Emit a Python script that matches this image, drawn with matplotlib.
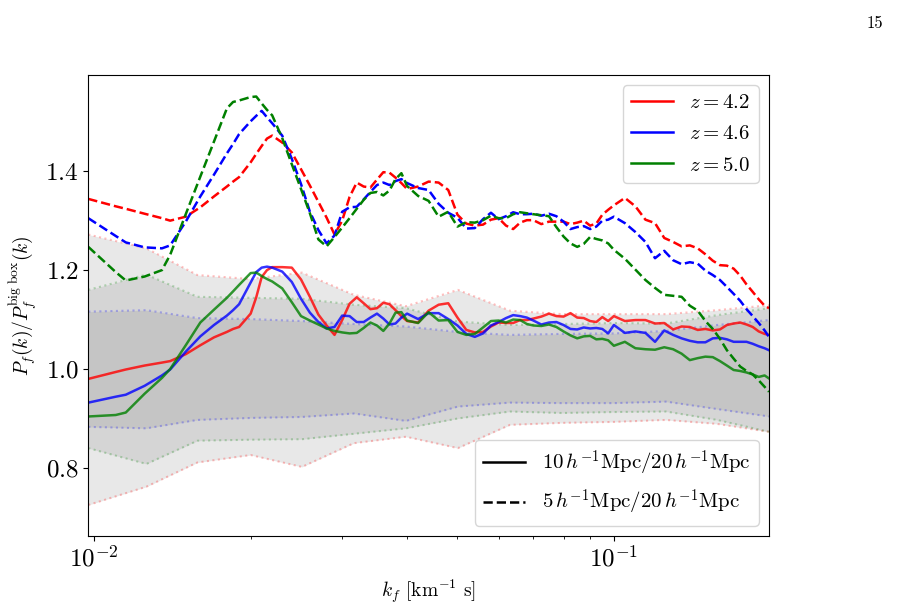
import numpy as np
import matplotlib
matplotlib.use("Agg")
import matplotlib.pyplot as plt
from matplotlib.lines import Line2D

plt.rcParams['font.family'] = 'serif'
plt.rcParams['font.serif'] = ['cmr10', 'DejaVu Serif']
plt.rcParams['mathtext.fontset'] = 'cm'
plt.rcParams['axes.formatter.use_mathtext'] = True

# k grid of the ratio curves [km^-1 s]
k = [0.00974, 0.0110, 0.0115, 0.0125, 0.0135, 0.0140, 0.0150, 0.0160, 0.0170, 0.0180,
     0.0185, 0.0190, 0.0200, 0.0205, 0.0210, 0.0215, 0.0220, 0.0230, 0.0240, 0.0250,
     0.0260, 0.0270, 0.0280, 0.0290, 0.0300, 0.0310, 0.0320, 0.0330, 0.0340, 0.0350,
     0.0360, 0.0370, 0.0380, 0.0390, 0.0400, 0.0420, 0.0440, 0.0460, 0.0480, 0.0500,
     0.0520, 0.0540, 0.0560, 0.0580, 0.0600, 0.0620, 0.0640, 0.0660, 0.0680, 0.0700,
     0.0725, 0.0750, 0.0775, 0.0800, 0.0825, 0.0850, 0.0875, 0.0900, 0.0925, 0.0950,
     0.0975, 0.1000, 0.1050, 0.1100, 0.1150, 0.1200, 0.1250, 0.1300, 0.1350, 0.1400,
     0.1450, 0.1500, 0.1550, 0.1600, 0.1650, 0.1700, 0.1750, 0.1800, 0.1850, 0.1900,
     0.1950, 0.1988]

# 10 Mpc/h / 20 Mpc/h (solid)
r10_z42 = [0.980, 0.994, 0.999, 1.007, 1.013, 1.016, 1.030, 1.048, 1.064, 1.075,
           1.081, 1.085, 1.112, 1.145, 1.186, 1.200, 1.206, 1.206, 1.205, 1.181,
           1.146, 1.110, 1.088, 1.069, 1.099, 1.132, 1.145, 1.133, 1.121, 1.123,
           1.134, 1.131, 1.119, 1.107, 1.097, 1.094, 1.118, 1.130, 1.133, 1.104,
           1.079, 1.074, 1.075, 1.086, 1.094, 1.093, 1.093, 1.099, 1.099, 1.102,
           1.106, 1.112, 1.107, 1.106, 1.113, 1.104, 1.103, 1.097, 1.095, 1.105,
           1.097, 1.107, 1.097, 1.099, 1.099, 1.092, 1.093, 1.080, 1.086, 1.085,
           1.079, 1.081, 1.078, 1.080, 1.089, 1.092, 1.094, 1.090, 1.085, 1.076,
           1.071, 1.069]
r10_z46 = [0.932, 0.944, 0.948, 0.966, 0.987, 0.999, 1.035, 1.066, 1.089, 1.108,
           1.119, 1.131, 1.175, 1.196, 1.205, 1.207, 1.205, 1.197, 1.176, 1.142,
           1.114, 1.095, 1.082, 1.085, 1.108, 1.107, 1.095, 1.095, 1.104, 1.112,
           1.102, 1.090, 1.092, 1.104, 1.112, 1.101, 1.113, 1.113, 1.101, 1.088,
           1.071, 1.065, 1.072, 1.088, 1.095, 1.103, 1.109, 1.107, 1.104, 1.098,
           1.090, 1.094, 1.095, 1.089, 1.081, 1.080, 1.084, 1.082, 1.083, 1.081,
           1.072, 1.089, 1.073, 1.076, 1.073, 1.055, 1.078, 1.069, 1.062, 1.057,
           1.054, 1.054, 1.062, 1.063, 1.060, 1.055, 1.055, 1.055, 1.051, 1.046,
           1.042, 1.038]
r10_z50 = [0.904, 0.907, 0.912, 0.950, 0.982, 1.000, 1.048, 1.094, 1.120, 1.144,
           1.157, 1.170, 1.194, 1.195, 1.188, 1.182, 1.177, 1.163, 1.135, 1.107,
           1.098, 1.090, 1.082, 1.077, 1.074, 1.072, 1.073, 1.083, 1.094, 1.088,
           1.077, 1.092, 1.114, 1.115, 1.098, 1.093, 1.115, 1.098, 1.099, 1.075,
           1.069, 1.071, 1.084, 1.097, 1.098, 1.094, 1.100, 1.099, 1.091, 1.088,
           1.087, 1.090, 1.085, 1.076, 1.068, 1.062, 1.066, 1.067, 1.060, 1.061,
           1.058, 1.047, 1.055, 1.042, 1.040, 1.039, 1.044, 1.040, 1.031, 1.018,
           1.022, 1.025, 1.024, 1.016, 1.007, 0.998, 0.996, 0.993, 0.989, 0.984,
           0.987, 0.981]

# 5 Mpc/h / 20 Mpc/h (dashed)
r5_z42 = [1.344, 1.329, 1.324, 1.314, 1.305, 1.300, 1.308, 1.327, 1.349, 1.369,
          1.379, 1.388, 1.418, 1.435, 1.451, 1.466, 1.472, 1.458, 1.438, 1.404,
          1.371, 1.338, 1.306, 1.272, 1.300, 1.348, 1.377, 1.369, 1.367, 1.383,
          1.398, 1.397, 1.387, 1.376, 1.364, 1.369, 1.379, 1.377, 1.362, 1.312,
          1.294, 1.290, 1.292, 1.302, 1.305, 1.290, 1.283, 1.296, 1.301, 1.301,
          1.293, 1.298, 1.298, 1.298, 1.293, 1.296, 1.300, 1.290, 1.294, 1.312,
          1.322, 1.331, 1.346, 1.329, 1.302, 1.295, 1.265, 1.257, 1.248, 1.250,
          1.244, 1.232, 1.219, 1.210, 1.209, 1.203, 1.189, 1.171, 1.156, 1.141,
          1.128, 1.123]
r5_z46 = [1.305, 1.269, 1.256, 1.246, 1.244, 1.250, 1.298, 1.349, 1.393, 1.436,
          1.455, 1.475, 1.501, 1.512, 1.522, 1.509, 1.497, 1.472, 1.425, 1.374,
          1.318, 1.281, 1.254, 1.270, 1.318, 1.327, 1.328, 1.343, 1.358, 1.372,
          1.377, 1.372, 1.380, 1.384, 1.376, 1.366, 1.362, 1.334, 1.316, 1.306,
          1.284, 1.285, 1.303, 1.316, 1.303, 1.309, 1.317, 1.313, 1.313, 1.314,
          1.310, 1.314, 1.309, 1.298, 1.283, 1.287, 1.289, 1.283, 1.288, 1.300,
          1.302, 1.308, 1.295, 1.277, 1.257, 1.224, 1.239, 1.220, 1.212, 1.216,
          1.213, 1.199, 1.190, 1.180, 1.166, 1.152, 1.138, 1.121, 1.107, 1.093,
          1.078, 1.065]
r5_z50 = [1.247, 1.196, 1.179, 1.187, 1.200, 1.231, 1.313, 1.389, 1.460, 1.527,
          1.540, 1.543, 1.550, 1.551, 1.537, 1.524, 1.513, 1.467, 1.414, 1.364,
          1.315, 1.262, 1.248, 1.267, 1.286, 1.305, 1.324, 1.342, 1.356, 1.358,
          1.351, 1.361, 1.384, 1.396, 1.370, 1.350, 1.340, 1.308, 1.318, 1.288,
          1.297, 1.296, 1.301, 1.310, 1.305, 1.305, 1.313, 1.317, 1.315, 1.313,
          1.311, 1.309, 1.287, 1.268, 1.254, 1.247, 1.253, 1.267, 1.263, 1.260,
          1.254, 1.241, 1.223, 1.201, 1.180, 1.164, 1.150, 1.148, 1.146, 1.128,
          1.118, 1.097, 1.081, 1.061, 1.038, 1.021, 1.005, 0.996, 0.989, 0.977,
          0.964, 0.954]

# scatter bands (k bins of 0.1 dex)
k_band = [0.00974, 0.0126, 0.0158, 0.0200, 0.0251, 0.0316, 0.0398, 0.0501, 0.0631,
          0.0794, 0.100, 0.126, 0.158, 0.1988]
up_z42 = [1.272, 1.244, 1.190, 1.182, 1.195, 1.150, 1.127, 1.160, 1.118, 1.111, 1.111, 1.111, 1.119, 1.129]
lo_z42 = [0.725, 0.762, 0.811, 0.826, 0.802, 0.850, 0.863, 0.840, 0.887, 0.891, 0.893, 0.897, 0.889, 0.873]
up_z46 = [1.116, 1.119, 1.103, 1.101, 1.097, 1.091, 1.086, 1.075, 1.069, 1.071, 1.072, 1.077, 1.089, 1.099]
lo_z46 = [0.883, 0.880, 0.897, 0.901, 0.903, 0.910, 0.895, 0.924, 0.932, 0.931, 0.931, 0.934, 0.919, 0.904]
up_z50 = [1.160, 1.191, 1.146, 1.144, 1.142, 1.130, 1.123, 1.096, 1.089, 1.091, 1.093, 1.092, 1.109, 1.123]
lo_z50 = [0.840, 0.808, 0.855, 0.857, 0.858, 0.869, 0.880, 0.900, 0.914, 0.911, 0.913, 0.914, 0.897, 0.873]

colors = ['red', 'blue', 'green']
labels = ['$z = 4.2$', '$z = 4.6$', '$z = 5.0$']
solid = [r10_z42, r10_z46, r10_z50]
dashed = [r5_z42, r5_z46, r5_z50]
bands = [(lo_z42, up_z42), (lo_z46, up_z46), (lo_z50, up_z50)]

fig = plt.figure(figsize=(9, 6.06), dpi=100)
ax = fig.add_axes([0.0981, 0.1155, 0.7563, 0.7607])

for c, (lo, up) in zip(colors, bands):
    ax.fill_between(k_band, lo, up, color='gray', alpha=0.18, lw=0)
    ax.plot(k_band, up, ls=':', color=c, alpha=0.25, lw=1.5)
    ax.plot(k_band, lo, ls=':', color=c, alpha=0.25, lw=1.5)

for c, lab, s, d in zip(colors, labels, solid, dashed):
    ax.plot(k, s, color=c, lw=1.8, alpha=0.8, label=lab)
    ax.plot(k, d, color=c, lw=1.8, ls='--')

ax.set_xscale('log')
ax.set_xlim(k[0], k[-1])
ax.set_ylim(0.6623, 1.5945)
ax.set_yticks([0.8, 1.0, 1.2, 1.4])
ax.tick_params(labelsize=18)
ax.set_xlabel(r'$k_f$ [km$^{-1}$ s]', fontsize=14)
ax.set_ylabel(r'$P_f(k)/P_f^{\rm big\ box}(k)$', fontsize=14)

handles = [Line2D([], [], color=c, lw=1.8) for c in colors]
leg1 = ax.legend(handles, labels, loc='upper right', fontsize=15, labelspacing=0.6)
ax.add_artist(leg1)
style_handles = [Line2D([], [], color='k', lw=1.8),
                 Line2D([], [], color='k', lw=1.8, ls='--')]
style_labels = [r'$10\,h^{-1}{\rm Mpc}/20\,h^{-1}{\rm Mpc}$',
                r'$5\,h^{-1}{\rm Mpc}/20\,h^{-1}{\rm Mpc}$']
ax.legend(style_handles, style_labels, loc='lower right', fontsize=15)

fig.text(0.981, 0.962, '15', fontsize=12, ha='right', va='center')

fig.savefig('out.png', dpi=100)
